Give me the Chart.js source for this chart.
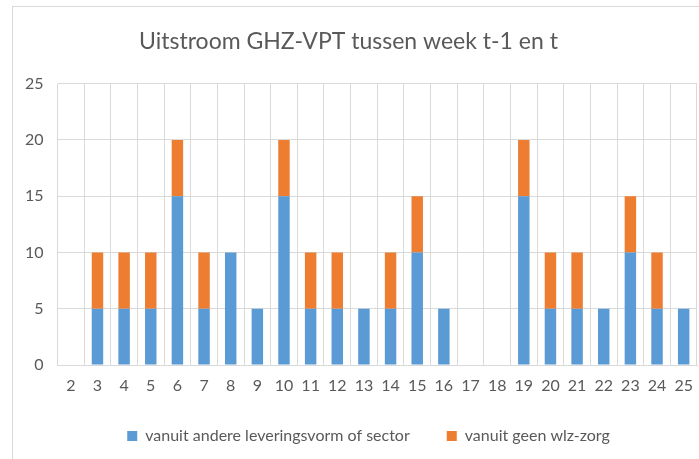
<!DOCTYPE html>
<html>
<head>
<meta charset="utf-8">
<script src="https://cdn.jsdelivr.net/npm/chart.js@4"></script>
<style>
  html, body { margin: 0; padding: 0; background: #fff; overflow: hidden; }
  #wrap { position: relative; width: 699px; height: 459px; overflow: hidden; }
  #frame { position: absolute; left: 12px; top: 6px; width: 760px; height: 520px; border: 1px solid #d9d9d9; box-sizing: border-box; }
  canvas { position: absolute; left: 0; top: 0; }
</style>
</head>
<body>
<div id="wrap">
  <div id="frame"></div>
  <canvas id="chart" width="699" height="459"></canvas>
</div>
<script>
// Week numbers
const weeks = ['2','3','4','5','6','7','8','9','10','11','12','13','14','15','16','17','18','19','20','21','22','23','24','25'];
// vanuit andere leveringsvorm of sector
const andereVorm = [0,5,5,5,15,5,10,5,15,5,5,5,5,10,5,0,0,15,5,5,5,10,5,5];
// vanuit geen wlz-zorg
const geenWlz = [0,5,5,5,5,5,0,0,5,5,5,0,5,5,0,0,0,5,5,5,0,5,5,0];
const yTicks = [0, 5, 10, 15, 20, 25];

const fontFamily = 'Lato, "Open Sans", sans-serif';
const textColor = '#595959';
const gridColor = '#d9d9d9';

// nudge the legend a bit to the right, like the original
const legendShift = {
    id: 'legendShift',
    afterLayout(chart) {
        chart.legend.left += 20;
        chart.legend.right += 20;
    }
};

const ctx = document.getElementById('chart').getContext('2d');
const chart = new Chart(ctx, {
    type: 'bar',
    data: {
        labels: weeks,
        datasets: [{
            label: 'vanuit andere leveringsvorm of sector',
            data: andereVorm,
            backgroundColor: '#5b9bd5',
            barPercentage: 0.43,
            categoryPercentage: 1
        }, {
            label: 'vanuit geen wlz-zorg',
            data: geenWlz,
            backgroundColor: '#ed7d31',
            barPercentage: 0.43,
            categoryPercentage: 1
        }]
    },
    options: {
        responsive: false,
        animation: false,
        layout: { padding: { left: 0, right: 2, top: 0, bottom: 5 } },
        plugins: {
            title: {
                display: true,
                text: 'Uitstroom GHZ-VPT tussen week t-1 en t',
                color: textColor,
                font: { family: fontFamily, size: 23, weight: 'normal' },
                padding: { top: 28, bottom: 28 }
            },
            legend: {
                position: 'bottom',
                labels: {
                    color: textColor,
                    font: { family: fontFamily, size: 16 },
                    boxWidth: 10,
                    boxHeight: 10,
                    padding: 37
                }
            },
            tooltip: { enabled: false }
        },
        scales: {
            x: {
                stacked: true,
                grid: { color: gridColor, drawTicks: false },
                border: { color: gridColor },
                ticks: { color: textColor, font: { family: fontFamily, size: 16 }, padding: 11 },
                afterFit: s => { s.height = 26; s.paddingLeft = 0; s.paddingRight = 0; }
            },
            y: {
                stacked: true,
                min: 0,
                max: 25,
                afterBuildTicks: s => { s.ticks = yTicks.map(v => ({ value: v })); },
                grid: { color: gridColor, drawTicks: false },
                border: { display: false },
                ticks: { color: textColor, font: { family: fontFamily, size: 16 }, padding: 14 },
                afterFit: s => { s.width = 57.5; }
            }
        }
    },
    plugins: [legendShift]
});
</script>
</body>
</html>
